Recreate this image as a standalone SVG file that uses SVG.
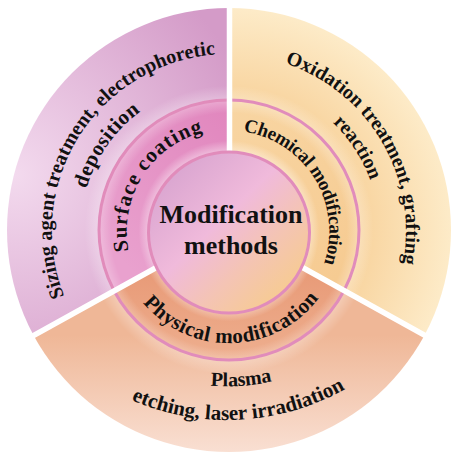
<svg xmlns="http://www.w3.org/2000/svg" width="451" height="455" viewBox="0 0 451 455">
<style>
  .lbl { font-family: "Liberation Serif", "Times New Roman", serif; font-weight: bold; fill: #111; }
  .ring { fill: none; stroke: #e18cbb; stroke-width: 3; }
  .gap { stroke: #ffffff; stroke-width: 5.5; stroke-linecap: butt; }
</style>
<defs>
  <clipPath id="clipOuter"><circle cx="229" cy="230" r="222"/></clipPath>
  <clipPath id="clipMid"><circle cx="229" cy="230" r="130"/></clipPath>

  <!-- pie wedges, meeting at the hub point -->
  <polygon id="wedgeLeft" points="229.5,227 -120.3,420.9 -300,420.9 -300,-300 229.5,-300"/>
  <polygon id="wedgeRight" points="229.5,227 229.5,-300 700,-300 700,420.9 579.3,420.9"/>
  <polygon id="wedgeBottom" points="229.5,227 579.3,420.9 579.3,700 -120.3,700 -120.3,420.9"/>

  <!-- fills -->
  <radialGradient id="gPinkOut" cx="15" cy="175" r="245" gradientUnits="userSpaceOnUse">
    <stop offset="0" stop-color="#f3daee"/>
    <stop offset="1" stop-color="#d49bc8"/>
  </radialGradient>
  <linearGradient id="gPinkMid" x1="100" y1="240" x2="225" y2="110" gradientUnits="userSpaceOnUse">
    <stop offset="0" stop-color="#e9a1ce"/>
    <stop offset="1" stop-color="#e187be"/>
  </linearGradient>
  <radialGradient id="gOrangeOut" cx="229" cy="230" r="222" gradientUnits="userSpaceOnUse">
    <stop offset="0.58" stop-color="#f8d39d"/>
    <stop offset="1" stop-color="#fdebc8"/>
  </radialGradient>
  <linearGradient id="gOrangeMid" x1="240" y1="105" x2="350" y2="270" gradientUnits="userSpaceOnUse">
    <stop offset="0" stop-color="#f8d5a2"/>
    <stop offset="1" stop-color="#f6cb92"/>
  </linearGradient>
  <linearGradient id="gPeachOut" x1="0" y1="335" x2="0" y2="452" gradientUnits="userSpaceOnUse">
    <stop offset="0" stop-color="#efb797"/>
    <stop offset="1" stop-color="#f9dfd2"/>
  </linearGradient>
  <linearGradient id="gPeachMid" x1="0" y1="270" x2="0" y2="360" gradientUnits="userSpaceOnUse">
    <stop offset="0" stop-color="#e89a77"/>
    <stop offset="1" stop-color="#eeaf8f"/>
  </linearGradient>
  <linearGradient id="gCore" x1="165" y1="165" x2="295" y2="300" gradientUnits="userSpaceOnUse">
    <stop offset="0" stop-color="#d7a3cf"/>
    <stop offset="0.42" stop-color="#f0badb"/>
    <stop offset="0.68" stop-color="#f4c4b4"/>
    <stop offset="1" stop-color="#f7cd8a"/>
  </linearGradient>

  <!-- soft light bands along the ring edges -->
  <radialGradient id="glowMid" cx="229" cy="231" r="131" gradientUnits="userSpaceOnUse">
    <stop offset="0.60" stop-color="#fff" stop-opacity="0.45"/>
    <stop offset="0.69" stop-color="#fff" stop-opacity="0"/>
    <stop offset="0.90" stop-color="#fff" stop-opacity="0"/>
    <stop offset="1" stop-color="#fff" stop-opacity="0.3"/>
  </radialGradient>
  <radialGradient id="glowOuter" cx="229" cy="230" r="222" gradientUnits="userSpaceOnUse">
    <stop offset="0.585" stop-color="#fff" stop-opacity="0.3"/>
    <stop offset="0.65" stop-color="#fff" stop-opacity="0"/>
  </radialGradient>

  <!-- text baselines -->
  <path id="arcSizing" d="M122.5,372.4 A177,177 0 0 1 309.4,73.3"/>
  <path id="arcDeposition" d="M133.2,345.1 A149,149 0 0 1 303.5,102"/>
  <path id="arcSurface" d="M167.6,312.5 A102,102 0 0 1 275.3,140.1"/>
  <path id="arcChemical" d="M179.3,143.1 A101,101 0 0 1 284.7,315.2"/>
  <path id="arcOxidation" d="M144.5,75.5 A177,177 0 0 1 324.1,380.3"/>
  <path id="arcReaction" d="M145.7,102.7 A153,153 0 0 1 312.3,359.3"/>
  <path id="arcPhysical" d="M117.2,237.8 A112,112 0 0 0 341,232"/>
  <path id="arcPlasma" d="M19.8,197.1 A208,208 0 0 0 434.7,168.1"/>
  <path id="arcEtching" d="M-12.4,195.7 A240,240 0 0 0 466.9,170.6"/>
</defs>

<!-- outer ring: detailed treatments -->
<g id="node-sizing">
  <use href="#wedgeLeft" clip-path="url(#clipOuter)" fill="url(#gPinkOut)"/>
  <use href="#wedgeLeft" clip-path="url(#clipOuter)" fill="url(#glowOuter)"/>
  <text class="lbl" font-size="20"><textPath href="#arcSizing" startOffset="50%" text-anchor="middle">Sizing agent treatment, electrophoretic</textPath></text>
  <text class="lbl" font-size="21"><textPath href="#arcDeposition" startOffset="50%" text-anchor="middle" textLength="96" lengthAdjust="spacing">deposition</textPath></text>
</g>
<g id="node-oxidation">
  <use href="#wedgeRight" clip-path="url(#clipOuter)" fill="url(#gOrangeOut)"/>
  <use href="#wedgeRight" clip-path="url(#clipOuter)" fill="url(#glowOuter)"/>
  <text class="lbl" font-size="20"><textPath href="#arcOxidation" startOffset="50%" text-anchor="middle">Oxidation treatment, grafting</textPath></text>
  <text class="lbl" font-size="20"><textPath href="#arcReaction" startOffset="50%" text-anchor="middle">reaction</textPath></text>
</g>
<g id="node-plasma">
  <use href="#wedgeBottom" clip-path="url(#clipOuter)" fill="url(#gPeachOut)"/>
  <use href="#wedgeBottom" clip-path="url(#clipOuter)" fill="url(#glowOuter)"/>
  <text class="lbl" font-size="20"><textPath href="#arcPlasma" startOffset="50%" text-anchor="middle">Plasma</textPath></text>
  <text class="lbl" font-size="21"><textPath href="#arcEtching" startOffset="50%" text-anchor="middle">etching, laser irradiation</textPath></text>
</g>

<!-- middle ring: method categories -->
<g id="node-surface-coating">
  <use href="#wedgeLeft" clip-path="url(#clipMid)" fill="url(#gPinkMid)"/>
  <use href="#wedgeLeft" clip-path="url(#clipMid)" fill="url(#glowMid)"/>
  <text class="lbl" font-size="21"><textPath href="#arcSurface" startOffset="50%" text-anchor="middle" textLength="154" lengthAdjust="spacing">Surface coating</textPath></text>
</g>
<g id="node-chemical">
  <use href="#wedgeRight" clip-path="url(#clipMid)" fill="url(#gOrangeMid)"/>
  <use href="#wedgeRight" clip-path="url(#clipMid)" fill="url(#glowMid)"/>
  <text class="lbl" font-size="19"><textPath href="#arcChemical" startOffset="50%" text-anchor="middle" textLength="176" lengthAdjust="spacing">Chemical modification</textPath></text>
</g>
<g id="node-physical">
  <use href="#wedgeBottom" clip-path="url(#clipMid)" fill="url(#gPeachMid)"/>
  <use href="#wedgeBottom" clip-path="url(#clipMid)" fill="url(#glowMid)"/>
  <text class="lbl" font-size="21"><textPath href="#arcPhysical" startOffset="50%" text-anchor="middle" textLength="202" lengthAdjust="spacing">Physical modification</textPath></text>
</g>

<circle class="ring" cx="229" cy="230" r="130"/>

<!-- white separators between sectors -->
<g id="connectors">
  <line class="gap" x1="229.5" y1="227" x2="229.5" y2="-10"/>
  <line class="gap" x1="229.5" y1="227" x2="-120.3" y2="420.9"/>
  <line class="gap" x1="229.5" y1="227" x2="579.3" y2="420.9"/>
</g>

<!-- hub -->
<g id="node-center">
  <circle cx="229" cy="232.5" r="80.5" fill="url(#gCore)"/>
  <circle class="ring" cx="229" cy="232.5" r="80.5"/>
  <text class="lbl" font-size="26" x="231" y="223" text-anchor="middle">Modification</text>
  <text class="lbl" font-size="26" x="231" y="254" text-anchor="middle">methods</text>
</g>
</svg>
